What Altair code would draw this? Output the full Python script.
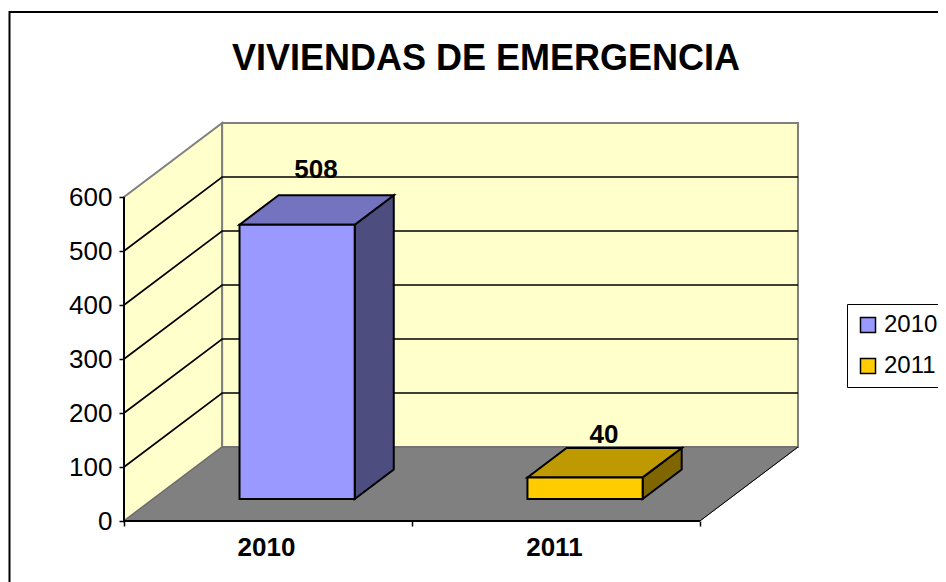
import altair as alt
import pandas as pd

TITLE = "VIVIENDAS DE EMERGENCIA"
SERIES = ["2010", "2011"]
VALUES = [508, 40]
FRONT = ["#9999FF", "#FFCC00"]
TOP = ["#7373BF", "#BF9900"]
SIDE = ["#4D4D80", "#806600"]
Y_TICKS = [0, 100, 200, 300, 400, 500, 600]
GRID = [100, 200, 300, 400, 500]
FONT = "Liberation Sans"

# oblique projection: (category, value, depth 0..1) -> flat chart coordinates
N_CAT = len(SERIES)
Y_MAX = 600
DX = 98 / 287.5      # depth shift in category units
DY = 74 / 0.54       # depth shift in value units
BAR_W = 0.4
BAR_D = (0.297, 0.695)
W, H = 674, 398
PAD = dict(left=116, top=115, right=140, bottom=61)


def px(u, d):
    return u + d * DX


def py(v, d):
    return v + d * DY


xs = alt.Scale(domain=[0, N_CAT + DX], nice=False, zero=False)
ys = alt.Scale(domain=[0, Y_MAX + DY], nice=False, zero=False)

x_axis = alt.Axis(
    values=[0, 0.5, 1, 1.5, 2], title=None, domain=False, grid=False,
    labelExpr="datum.value === 0.5 ? '%s' : datum.value === 1.5 ? '%s' : ''" % tuple(SERIES),
    labelFont=FONT, labelFontSize=26, labelFontWeight="bold", labelColor="black", labelPadding=8,
    labelAngle=0, labelOverlap=False, labelFlush=False, labelOffset=-2,
    tickColor="black", tickWidth=1.5, tickSize=5,
    tickOpacity={"condition": {"test": "datum.value % 1 === 0", "value": 1}, "value": 0},
    zindex=1,
)
y_axis = alt.Axis(
    values=Y_TICKS, title=None, domain=False, grid=False,
    labelFont=FONT, labelFontSize=26, labelColor="black", labelPadding=7, labelOverlap=False,
    labelFlush=False, tickColor="black", tickWidth=1.5, tickSize=5, zindex=1,
)


def X(field="x"):
    return alt.X(f"{field}:Q", scale=xs, axis=x_axis)


def Y(field="y"):
    return alt.Y(f"{field}:Q", scale=ys, axis=y_axis)


def vface(u0, u1, d0, d1, v0, v1, fill, stroke, sw=2):
    """Face with vertical left/right edges."""
    df = pd.DataFrame([
        dict(x=px(u0, d0), y=py(v0, d0), y2=py(v1, d0)),
        dict(x=px(u1, d1), y=py(v0, d1), y2=py(v1, d1)),
    ])
    return alt.Chart(df).mark_area(orient="vertical", fill=fill, stroke=stroke, strokeWidth=sw,
                                   opacity=1).encode(
        x=X(), y=Y(), y2=alt.Y2("y2:Q"))


def hface(u0, u1, d0, d1, v, fill, stroke, sw=2):
    """Face with horizontal top/bottom edges."""
    df = pd.DataFrame([
        dict(y=py(v, d0), x=px(u0, d0), x2=px(u1, d0)),
        dict(y=py(v, d1), x=px(u0, d1), x2=px(u1, d1)),
    ])
    return alt.Chart(df).mark_area(orient="horizontal", fill=fill, stroke=stroke, strokeWidth=sw,
                                   opacity=1).encode(
        y=Y(), x=X(), x2=alt.X2("x2:Q"))


def polyline(points, color, sw):
    df = pd.DataFrame([dict(x=px(u, d), y=py(v, d), o=i) for i, (u, v, d) in enumerate(points)])
    return alt.Chart(df).mark_line(color=color, strokeWidth=sw).encode(
        x=X(), y=Y(), order="o:Q")


layers = []

# chart frame (runs off the picture on the right and bottom)
layers.append(alt.Chart(pd.DataFrame({"a": [0]})).mark_rect(fill="white", stroke="black", strokeWidth=2).encode(
    x=alt.value(-114.5), x2=alt.value(1200), y=alt.value(-111), y2=alt.value(1200)))

# walls and floor
layers.append(vface(0, 0, 0, 1, 0, Y_MAX, "#FFFFCC", "#808080", 2))
layers.append(vface(0, N_CAT, 1, 1, 0, Y_MAX, "#FFFFCC", "#808080", 2))
layers.append(hface(0, N_CAT, 0, 1, 0, "#808080", "#666666", 1))

# gridlines
for g in GRID:
    layers.append(polyline([(0, g, 0), (0, g, 1), (N_CAT, g, 1)], "black", 1.7))

# right floor edge, axis lines
layers.append(polyline([(N_CAT, 0, 0), (N_CAT, 0, 1)], "black", 1))
layers.append(polyline([(0, 0, 0), (0, Y_MAX, 0)], "black", 2))
layers.append(polyline([(0, 0, 0), (N_CAT, 0, 0)], "black", 2))

# bars
d0, d1 = BAR_D
front_rows = []
for i, (s, v) in enumerate(zip(SERIES, VALUES)):
    u0 = i + 0.5 - BAR_W / 2
    u1 = u0 + BAR_W
    layers.append(vface(u1, u1, d0, d1, 0, v, SIDE[i], "black"))
    layers.append(hface(u0, u1, d0, d1, v, TOP[i], "black"))
    front_rows.append(dict(series=s, x=px(u0, d0), x2=px(u1, d0), y=py(0, d0), y2=py(v, d0)))

layers.append(alt.Chart(pd.DataFrame(front_rows)).mark_rect(stroke="black", strokeWidth=2, opacity=1).encode(
    x=X(), x2=alt.X2("x2:Q"), y=Y(), y2=alt.Y2("y2:Q"),
    fill=alt.Fill("series:N", scale=alt.Scale(domain=SERIES, range=FRONT), legend=alt.Legend(
        title=None, orient="none", legendX=723, legendY=181,
        fillColor="white", strokeColor="black", padding=9,
        symbolType="square", symbolSize=225, symbolStrokeColor="black", symbolStrokeWidth=1.5,
        symbolOpacity=1,
        labelFont=FONT, labelFontSize=24, labelColor="black", labelOffset=4, rowPadding=17,
        labelLimit=200,
    )),
))

# value labels
LABEL_DY = [-32, -19]
for i, (s, v) in enumerate(zip(SERIES, VALUES)):
    df = pd.DataFrame([dict(x=px(i + 0.5, 0.5), y=py(v, 0.5), t=str(v))])
    layers.append(alt.Chart(df).mark_text(
        font=FONT, fontSize=26, fontWeight="bold", color="black", baseline="alphabetic",
        align="center", dy=LABEL_DY[i], dx=-1).encode(x=X(), y=Y(), text="t:N"))

chart = alt.layer(*layers).properties(
    width=W, height=H,
    autosize=alt.AutoSizeParams(type="none"),
    padding=PAD,
    title=alt.TitleParams(TITLE, font=FONT, fontSize=36, fontWeight="bold", color="black",
                          anchor="middle", dx=25, dy=95, offset=0, baseline="alphabetic"),
).configure_view(stroke=None)

chart.save("out.html", embed_options={"renderer": "svg", "actions": False})
